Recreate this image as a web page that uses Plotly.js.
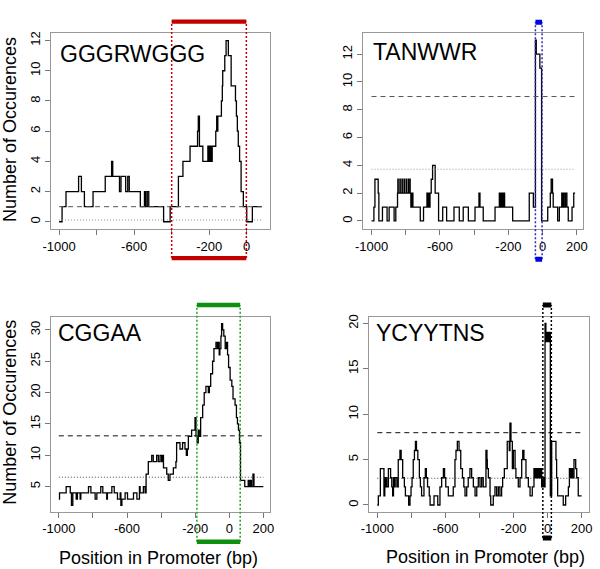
<!DOCTYPE html>
<html><head><meta charset="utf-8">
<script src="https://cdn.plot.ly/plotly-3.0.1.min.js"></script>
<style>html,body{margin:0;padding:0;background:#fff}#chart{width:600px;height:569px}</style>
</head><body><div id="chart"></div>
<script>
const motifs = ['GGGRWGGG', 'TANWWR', 'CGGAA', 'YCYYTNS'];

const gggPos = [-1000,-984,-963,-896,-881,-865,-819,-754,-720,-714,-678,-670,-645,-634,-626,-567,-545,-538,-530,-522,-443,-408,-364,-340,-302,-262,-258,-252,-234,-207,-204,-200,-196,-192,-188,-184,-165,-160,-157,-154,-135,-130,-128,-117,-110,-98,-83,-60,-55,-50,-45,-38,-30,-18,0,30,80];
const gggCount = [0,1,2,3,2,1,2,3,4,3,2,3,2,3,2,1,2,1,2,1,0,1,3,4,5,6,7,5,4,5,4,5,4,5,4,5,6,7,6,7,8,9,10,11,12,11,9,8,7,6,5,4,2,1,0,1,1];

const tanPos = [-1000,-986,-980,-961,-957,-936,-909,-897,-868,-858,-848,-846,-844,-834,-832,-822,-820,-810,-808,-798,-796,-786,-784,-776,-774,-770,-764,-758,-715,-696,-676,-671,-667,-662,-658,-651,-643,-628,-608,-584,-561,-518,-487,-464,-434,-395,-372,-366,-347,-278,-253,-246,-242,-238,-234,-230,-226,-222,-175,-78,-54,-42,-37,-16,-6,30,45,50,58,62,88,98,112,118,122,130,134,142,150,172,182,190];
const tanCount = [0,1,3,2,0,1,0,1,0,1,2,3,2,3,2,3,2,3,2,3,2,3,2,3,2,1,2,1,0,1,2,1,2,1,2,3,4,2,0,1,0,1,0,1,0,1,2,1,0,1,2,1,2,1,2,1,2,1,0,2,1,13,12,11,0,1,2,3,2,1,0,1,2,1,2,1,2,1,0,1,2,2];

const cggPos = [-1000,-996,-957,-933,-926,-918,-898,-891,-875,-871,-826,-812,-787,-777,-754,-742,-719,-715,-689,-675,-656,-640,-636,-630,-611,-597,-562,-542,-527,-523,-504,-494,-488,-475,-455,-446,-426,-416,-406,-397,-393,-386,-367,-358,-348,-328,-313,-309,-289,-274,-260,-252,-246,-240,-221,-201,-195,-188,-182,-176,-168,-156,-147,-137,-123,-117,-109,-98,-90,-78,-70,-65,-59,-55,-49,-45,-39,-32,-24,-16,-10,-4,5,15,22,34,42,48,54,60,66,91,111,116,124,130,139,145,200];
const cggCount = [3,4,5,4,2,4,3,4,3,4,5,4,3,4,5,4,3,4,5,4,3,4,2,3,4,3,4,3,5,4,5,4,7,9,10,9,10,9,10,9,10,8,7,6,7,8,9,12,11,12,11,10,11,13,14,16,13,12,14,13,16,18,20,21,20,21,23,25,27,28,27,28,26,27,29,31,30,29,27,28,26,24,22,21,19,18,16,15,14,12,6,5,6,5,6,5,7,5,5];

const ycyPos = [-1000,-994,-982,-961,-956,-952,-948,-944,-935,-922,-915,-910,-905,-900,-895,-885,-877,-867,-860,-851,-841,-835,-816,-808,-802,-796,-789,-782,-776,-770,-762,-753,-747,-740,-726,-718,-712,-705,-695,-690,-667,-645,-632,-622,-612,-605,-598,-583,-554,-544,-538,-530,-520,-510,-500,-492,-485,-475,-466,-456,-446,-436,-426,-416,-407,-397,-387,-378,-362,-356,-354,-348,-338,-334,-319,-309,-299,-289,-280,-270,-264,-254,-237,-225,-221,-215,-207,-201,-191,-186,-172,-162,-152,-146,-139,-127,-113,-103,-90,-80,-75,-70,-65,-60,-55,-50,-45,-40,-35,-29,-21,-15,-10,-7,-4,-1,2,5,8,11,16,24,49,53,59,92,106,122,128,135,141,147,155,165,171,180,200];
const ycyCount = [0,1,4,1,3,2,3,2,4,3,2,1,3,2,3,2,5,6,5,3,2,1,0,1,2,3,5,6,7,6,5,3,2,1,3,4,3,2,1,0,1,0,2,3,4,3,2,1,2,5,6,7,6,4,3,2,1,2,3,4,3,2,1,2,3,2,3,2,6,5,4,3,1,0,1,2,1,2,1,2,3,4,7,6,9,7,4,6,4,3,2,3,5,6,5,3,2,1,2,4,3,4,3,4,3,4,3,4,2,3,2,20,18,19,18,19,18,19,18,19,1,7,5,3,1,0,1,2,4,3,4,3,5,4,3,1,1];

const dashedLevels = [1, 8.95, 13.1, 7.96];
const dottedLevels = [0.12, 3.72, 6.5, 2.94];
const regionStart = [-400, -42, -190, -28];
const regionEnd = [-2, -3, 64, 22];
const barColors = ['#c20000', '#0000e6', '#0f8f0f', '#000000'];
const guideColors = ['#c20000', '#2a2ab0', '#22a022', '#000000'];
const xTickVals = [-1000, -800, -600, -400, -200, 0, 200];
const xTickText = ['-1000', '', '-600', '', '-200', '0', '200'];
const yTickVals = [[0,2,4,6,8,10,12],[0,2,4,6,8,10,12],[5,10,15,20,25,30],[0,5,10,15,20]];
const xTitle = 'Position in Promoter (bp)';
const yTitle = 'Number of Occurences';

const positions = [gggPos, tanPos, cggPos, ycyPos];
const counts = [gggCount, tanCount, cggCount, ycyCount];
const dashedColors = ['#555', '#555', '#111', '#111'];
const dottedColors = ['#888', '#999', '#444', '#444'];

const xDomains = [[0.085, 0.45], [0.6055, 0.9722], [0.085, 0.45], [0.6155, 0.9822]];
const yDomains = [[0.5975, 0.942], [0.597, 0.9415], [0.1007, 0.4434], [0.1007, 0.4434]];
const xRanges = [[-1043, 124], [-1048, 238], [-1046, 239], [-1047, 245]];
const yRanges = [[-0.48, 12.5], [-0.6, 13.5], [1.0, 32.1], [-0.74, 20.73]];
const barTop = [1.058, 1.056, 1.06, 1.06];
const barBottom = [-0.148, -0.153, -0.154, -0.135];
const barHalf = [0.011, 0.013, 0.011, 0.013];
const titleY = [0.893, 0.906, 0.915, 0.915];
const titleX = [0.033, 0.035, 0.023, 0.021];

const font = 'Liberation Sans, Arial, Helvetica, sans-serif';
const traces = [];
const shapes = [];
const annotations = [];
const layout = {
  width: 600, height: 569,
  margin: {l: 0, r: 0, t: 0, b: 0},
  paper_bgcolor: '#fff', plot_bgcolor: '#fff',
  showlegend: false,
  font: {family: font, size: 13, color: '#000'}
};

for (let i = 0; i < 4; i++) {
  const n = i === 0 ? '' : String(i + 1);
  const xa = 'x' + n, ya = 'y' + n;
  const pos = positions[i];
  const xEnd = pos[pos.length - 1];
  traces.push({x: pos, y: counts[i], xaxis: xa, yaxis: ya, type: 'scatter', mode: 'lines',
    line: {shape: 'hv', color: '#000', width: 1.3}, hoverinfo: 'skip'});
  traces.push({x: [pos[0], xEnd], y: [dashedLevels[i], dashedLevels[i]], xaxis: xa, yaxis: ya,
    type: 'scatter', mode: 'lines', line: {color: dashedColors[i], width: 1, dash: '5px,4px'}, hoverinfo: 'skip'});
  traces.push({x: [pos[0], xEnd], y: [dottedLevels[i], dottedLevels[i]], xaxis: xa, yaxis: ya,
    type: 'scatter', mode: 'lines', line: {color: dottedColors[i], width: 1, dash: '1px,2px'}, hoverinfo: 'skip'});

  layout['xaxis' + n] = {domain: xDomains[i], anchor: ya, range: xRanges[i], showgrid: false, zeroline: false,
    showline: true, mirror: true, linecolor: '#999', linewidth: 1, ticks: 'outside', ticklen: 5, tickcolor: '#777',
    tickmode: 'array', tickvals: xTickVals, ticktext: xTickText, tickfont: {size: 13, family: font, color: '#000'}};
  layout['yaxis' + n] = {domain: yDomains[i], anchor: xa, range: yRanges[i], showgrid: false, zeroline: false,
    showline: true, mirror: true, linecolor: '#999', linewidth: 1, ticks: 'outside', ticklen: 5, tickcolor: '#777',
    tickmode: 'array', tickvals: yTickVals[i], tickangle: -90, tickfont: {size: 13, family: font, color: '#000'}};

  const yd = ya + ' domain';
  [regionStart[i], regionEnd[i]].forEach(xv => {
    shapes.push({type: 'line', xref: xa, yref: yd, x0: xv, x1: xv, y0: barBottom[i], y1: barTop[i],
      line: {color: guideColors[i], width: 1.5, dash: '2px,2px'}});
  });
  [barTop[i], barBottom[i]].forEach(yv => {
    shapes.push({type: 'rect', xref: xa, yref: yd, x0: regionStart[i], x1: regionEnd[i],
      y0: yv - barHalf[i], y1: yv + barHalf[i], fillcolor: barColors[i], line: {width: 0}});
  });

  annotations.push({xref: xa + ' domain', yref: ya + ' domain', x: titleX[i], y: titleY[i],
    xanchor: 'left', yanchor: 'middle', showarrow: false, text: motifs[i],
    font: {size: 23, family: font, color: '#000'}});
}

annotations.push({xref: 'paper', yref: 'paper', x: 10 / 600, y: 1 - 130 / 569, textangle: -90, showarrow: false,
  text: yTitle, font: {size: 18, family: font, color: '#000'}, xanchor: 'center', yanchor: 'middle'});
annotations.push({xref: 'paper', yref: 'paper', x: 10 / 600, y: 1 - 412.7 / 569, textangle: -90, showarrow: false,
  text: yTitle, font: {size: 18, family: font, color: '#000'}, xanchor: 'center', yanchor: 'middle'});
annotations.push({xref: 'paper', yref: 'paper', x: 158.3 / 600, y: 1 - 558.3 / 569, showarrow: false,
  text: xTitle, font: {size: 18, family: font, color: '#000'}, xanchor: 'center', yanchor: 'middle'});
annotations.push({xref: 'paper', yref: 'paper', x: 485.7 / 600, y: 1 - 556.7 / 569, showarrow: false,
  text: xTitle, font: {size: 18, family: font, color: '#000'}, xanchor: 'center', yanchor: 'middle'});

layout.shapes = shapes;
layout.annotations = annotations;

Plotly.newPlot('chart', traces, layout, {displayModeBar: false, staticPlot: true});
</script>
</body></html>
